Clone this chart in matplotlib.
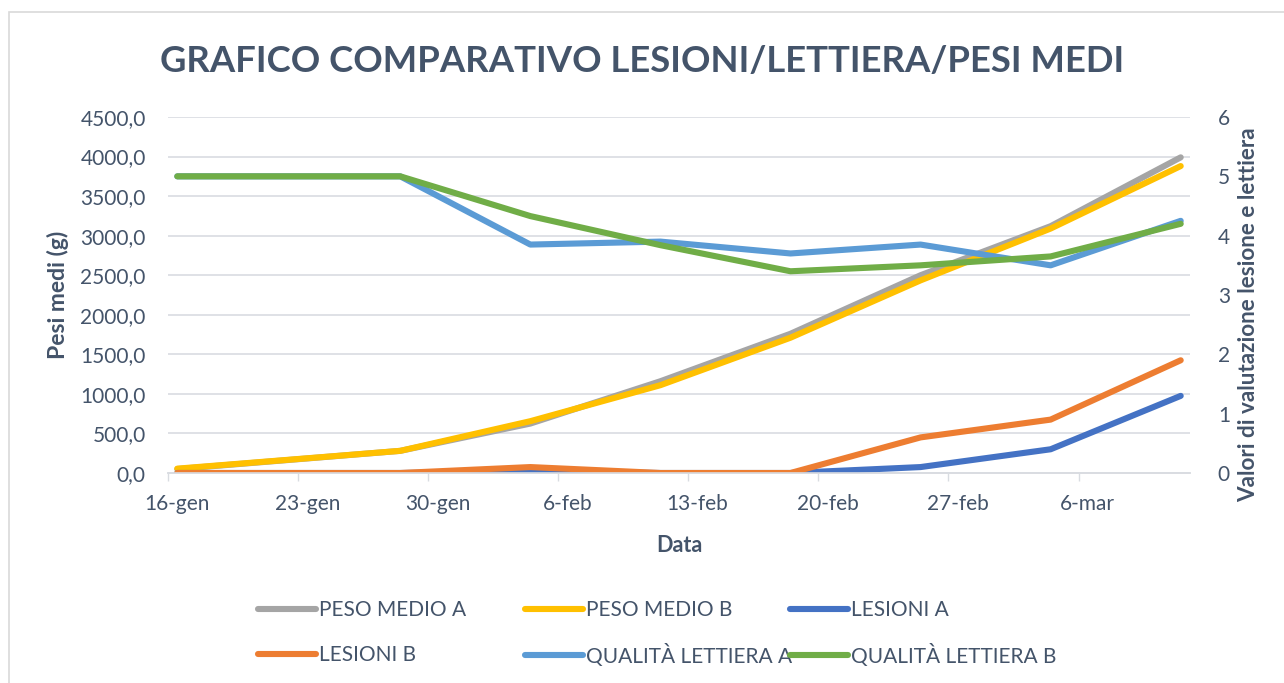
import datetime as dt
import matplotlib
matplotlib.use('Agg')
import matplotlib.pyplot as plt
import matplotlib.dates as mdates
from matplotlib.ticker import FixedLocator, FuncFormatter, MultipleLocator
from matplotlib.patches import Rectangle

plt.rcParams['font.family'] = ['Lato', 'DejaVu Sans']
plt.rcParams['font.size'] = 15

# dati
date = ['2019-01-16', '2019-01-28', '2019-02-04', '2019-02-11',
        '2019-02-18', '2019-02-25', '2019-03-04', '2019-03-11']
peso_medio_A = [50, 280, 625, 1160, 1760, 2500, 3120, 3990]
peso_medio_B = [55, 280, 655, 1110, 1710, 2435, 3090, 3880]
lesioni_A = [0, 0, 0.03, 0, 0, 0.1, 0.4, 1.3]
lesioni_B = [0, 0, 0.1, 0, 0, 0.6, 0.9, 1.9]
lettiera_A = [5, 5, 3.85, 3.9, 3.7, 3.85, 3.5, 4.25]
lettiera_B = [5, 5, 4.33, 3.84, 3.4, 3.5, 3.65, 4.2]
tick_date = ['2019-01-16', '2019-01-23', '2019-01-30', '2019-02-06',
             '2019-02-13', '2019-02-20', '2019-02-27', '2019-03-06']
mesi = ['gen', 'feb', 'mar', 'apr', 'mag', 'giu', 'lug', 'ago', 'set', 'ott', 'nov', 'dic']

x = [dt.datetime.strptime(d, '%Y-%m-%d') for d in date]
xt = [mdates.date2num(dt.datetime.strptime(d, '%Y-%m-%d')) for d in tick_date]

TXT = '#44546A'
GRID = '#D9DCE1'
W = 4.4

fig = plt.figure(figsize=(12.84, 6.83), dpi=100)
fig.patches.append(Rectangle((9/1284, -0.1), 2, 1.1 - 12/683, transform=fig.transFigure,
                             fill=False, edgecolor='#D9D9D9', lw=1.2))

ax = fig.add_axes([168/1284, 1 - 473/683, (1190 - 168)/1284, (473 - 117)/683])
ax2 = ax.twinx()

ax.plot(x, peso_medio_A, color='#A5A5A5', lw=W, solid_capstyle='round', solid_joinstyle='round', label='PESO MEDIO A')
ax.plot(x, peso_medio_B, color='#FFC000', lw=W, solid_capstyle='round', solid_joinstyle='round', label='PESO MEDIO B')
ax2.plot(x, lesioni_A, color='#4472C4', lw=W, solid_capstyle='round', solid_joinstyle='round', label='LESIONI A')
ax2.plot(x, lesioni_B, color='#ED7D31', lw=W, solid_capstyle='round', solid_joinstyle='round', label='LESIONI B')
ax2.plot(x, lettiera_A, color='#5B9BD5', lw=W, solid_capstyle='round', solid_joinstyle='round', label='QUALITÀ LETTIERA A')
ax2.plot(x, lettiera_B, color='#70AD47', lw=W, solid_capstyle='round', solid_joinstyle='round', label='QUALITÀ LETTIERA B')

ax.set_ylim(0, 4500)
ax.yaxis.set_major_locator(MultipleLocator(500))
ax.yaxis.set_major_formatter(FuncFormatter(lambda v, p: f'{v:.1f}'.replace('.', ',')))
ax2.set_ylim(0, 6)
ax2.yaxis.set_major_locator(MultipleLocator(1))

ax.set_xlim(xt[0] - 0.5, mdates.date2num(x[-1]) + 0.5)
ax.xaxis.set_major_locator(FixedLocator(xt))
ax.xaxis.set_major_formatter(FuncFormatter(
    lambda v, p: f'{mdates.num2date(v).day}-{mesi[mdates.num2date(v).month - 1]}'))
ax.xaxis.set_minor_locator(FixedLocator([t - 0.5 for t in xt]))
ax.tick_params(axis='x', which='major', length=0, pad=15, colors=TXT, labelsize=15)
ax.tick_params(axis='x', which='minor', length=6, width=1, color=GRID)
ax.tick_params(axis='y', length=0, pad=16, colors=TXT, labelsize=15)
ax2.tick_params(axis='y', length=0, pad=20, colors=TXT, labelsize=15)

ax.yaxis.grid(True, color=GRID, lw=1.2)
ax.set_axisbelow(True)
for a in (ax, ax2):
    for s in ['top', 'left', 'right']:
        a.spines[s].set_visible(False)
    a.spines['bottom'].set_color(GRID)
    a.spines['bottom'].set_linewidth(1.2)

ax.set_ylabel('Pesi medi (g)', color=TXT, fontsize=16.5, fontweight='bold', labelpad=8)
ax.set_xlabel('Data', color=TXT, fontsize=15.5, fontweight='bold', labelpad=15)
fig.text(1249/1284, 1 - 315/683, 'Valori di valutazione lesione e lettiera', rotation=90,
         ha='center', va='center', color=TXT, fontsize=16.2, fontweight='bold')

fig.text(0.5, 1 - 62/683, 'GRAFICO COMPARATIVO LESIONI/LETTIERA/PESI MEDI',
         ha='center', va='center', color=TXT, fontsize=26.3, fontweight='bold')

# legenda come in Excel: tre colonne, due righe
h1, l1 = ax.get_legend_handles_labels()
h2, l2 = ax2.get_legend_handles_labels()
hs = h1 + h2
ls = l1 + l2
pos = [(258, 610), (525, 610), (790, 610), (258, 655), (525, 655), (790, 655)]
for h, l, (x0, y0) in zip(hs, ls, pos):
    fig.legend([h], [l], loc='center left', bbox_to_anchor=(x0/1284, 1 - y0/683),
               frameon=False, borderpad=0, handlelength=2.8, handletextpad=0.15,
               labelcolor=TXT, fontsize=15, borderaxespad=0)

plt.savefig('out.png', dpi=100)
